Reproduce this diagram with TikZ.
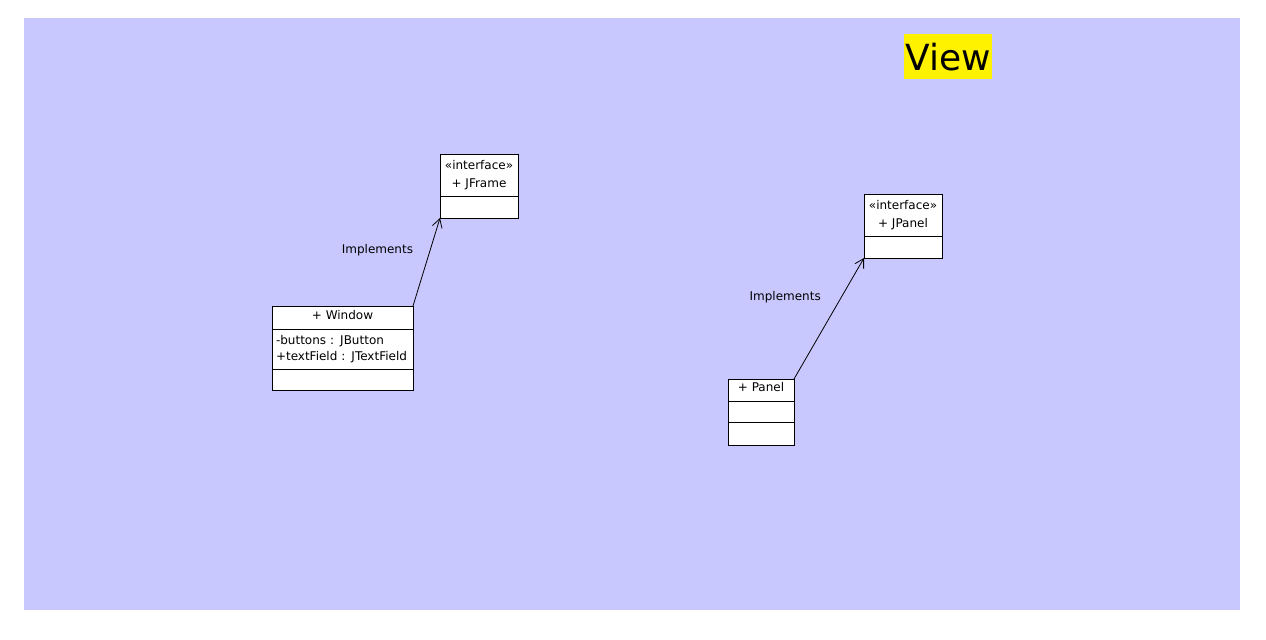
\documentclass[tikz,border=0pt]{standalone}
\usepackage{fontspec}
\setmainfont{DejaVu Sans}
\usetikzlibrary{positioning}
\usetikzlibrary{arrows.meta}
\definecolor{viewbg}{RGB}{200,200,255}

\begin{document}
\begin{tikzpicture}[%
    x=0.75pt, y=-0.75pt,
    node distance=0pt,
    font=\fontsize{9}{12}\selectfont,
classhead/.style={rectangle, align=center, draw=black, fill=white, line width=0.75pt, outer sep=0pt, inner xsep=2pt, inner ysep=1pt, font=\fontsize{9}{13.5}\selectfont},
classpart/.style={rectangle, draw=black, fill=white, line width=0.75pt, outer sep=0pt, inner xsep=3pt, inner ysep=1pt},
implements/.style={-{Straight Barb[length=6.5pt,width=7.5pt]}, line width=0.6pt},
title/.style={rectangle, fill=yellow, inner sep=0pt, minimum width=66pt, minimum height=33.75pt, font=\fontsize{27}{27}\selectfont}
]

\useasboundingbox (0,0) rectangle (1266,639);

% package area
\fill[viewbg] (24,18) rectangle (1240,610);
\node[title, anchor=north west]      (viewtitle) at (904,34) {View};

% interfaces
\node[classhead, minimum width=58.5pt, minimum height=31.5pt, anchor=north west]      (jframe) at (440,154) {«interface»\\+ JFrame};
\node[classpart, minimum width=58.5pt, minimum height=16.5pt]      (jframeops) [below=of jframe] {};

\node[classhead, minimum width=58.5pt, minimum height=31.5pt, anchor=north west]      (jpanel) at (864,194) {«interface»\\+ JPanel};
\node[classpart, minimum width=58.5pt, minimum height=16.5pt]      (jpanelops) [below=of jpanel] {};

% classes
\node[classhead, text depth=4.5pt, minimum width=105.75pt, minimum height=17.25pt, anchor=north west]      (window) at (272,306) {+ Window};
\node[classpart, text width=99.75pt, minimum height=30pt, align=left]      (windowattr) [below=of window] {-buttons : JButton\\+textField : JTextField};
\node[classpart, minimum width=105.75pt, minimum height=15.75pt]      (windowops) [below=of windowattr] {};

\node[classhead, text depth=4.5pt, minimum width=49.5pt, minimum height=16.5pt, anchor=north west]      (panel) at (728,379) {+ Panel};
\node[classpart, minimum width=49.5pt, minimum height=15.75pt]      (panelattr) [below=of panel] {};
\node[classpart, minimum width=49.5pt, minimum height=17.25pt]      (panelops) [below=of panelattr] {};

% realization lines
\draw[implements] (window.north east) -- (jframeops.south west) node[pos=0.6, anchor=east, xshift=-8.5pt, yshift=2pt] (implframe) {Implements};
\draw[implements] (panel.north east) -- (jpanelops.south west) node[pos=0.68, anchor=east, xshift=-12pt] (implpanel) {Implements};

\end{tikzpicture}
\end{document}
